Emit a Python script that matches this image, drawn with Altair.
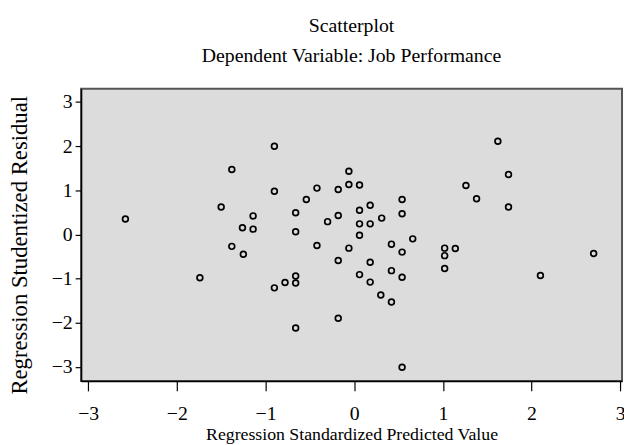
import altair as alt
import pandas as pd

predicted = [-0.90, -1.38, -0.90, -1.50, -2.58, -1.14, -1.26, -1.14, -0.06, -0.42,
             -0.18, -0.06, 0.06, -0.54, 0.54, 0.18, 0.06, -0.66, 0.54, -0.18,
             -0.30, 0.31, 0.06, 0.18, -0.66, 0.06, 0.66, 1.62, 1.74, 1.26,
             1.38, 1.74, -1.38, -1.25, -1.74, -0.90, -0.42, -0.06, 0.42, 0.54,
             1.02, 1.14, 1.02, 1.02, -0.18, 0.18, 0.42, 0.06, 0.54, 0.18,
             -0.66, -0.66, -0.78, 0.30, 0.42, -0.18, -0.66, 0.54, 2.70, 2.10]
residual = [2.00, 1.47, 0.98, 0.62, 0.35, 0.42, 0.15, 0.12, 1.43, 1.05,
            1.02, 1.13, 1.12, 0.79, 0.79, 0.66, 0.55, 0.49, 0.47, 0.43,
            0.29, 0.37, 0.24, 0.24, 0.06, -0.02, -0.10, 2.11, 1.36, 1.11,
            0.81, 0.62, -0.27, -0.45, -0.98, -1.21, -0.25, -0.31, -0.22, -0.40,
            -0.31, -0.32, -0.48, -0.77, -0.59, -0.63, -0.82, -0.91, -0.97, -1.08,
            -0.94, -1.10, -1.09, -1.37, -1.53, -1.90, -2.12, -3.01, -0.43, -0.93]

x_ticks = [-3, -2, -1, 0, 1, 2, 3]
y_ticks = [-3, -2, -1, 0, 1, 2, 3]

df = pd.DataFrame({"pred": predicted, "resid": residual})

FONT = "Liberation Serif"

chart = alt.Chart(df).mark_point(
    shape="circle", filled=False, color="black", size=34, strokeWidth=1.7, opacity=1
).encode(
    x=alt.X("pred:Q",
            scale=alt.Scale(domain=[-3.08, 3.02], nice=False, zero=False),
            axis=alt.Axis(title="Regression Standardized Predicted Value",
                          values=x_ticks, format="d", tickSize=10, labelPadding=13,
                          labelFontSize=20, titleFontSize=18,
                          titlePadding=2, grid=False)),
    y=alt.Y("resid:Q",
            scale=alt.Scale(domain=[-3.32, 3.30], nice=False, zero=False),
            axis=alt.Axis(title="Regression Studentized Residual",
                          values=y_ticks, format="d", tickSize=6, labelPadding=3,
                          labelFontSize=20, titleFontSize=23, titleY=158,
                          titlePadding=20, grid=False)),
).properties(
    width=548, height=296,
    autosize=alt.AutoSizeParams(type="none"),
    padding={"left": 74, "top": 79, "right": 2, "bottom": 62},
    title=alt.TitleParams(text=["Scatterplot", "Dependent Variable: Job Performance"],
                          font=FONT, fontSize=20, fontWeight="normal", color="black",
                          lineHeight=31, anchor="middle", offset=23),
).configure_view(
    fill="#dcdcdc", stroke="#555555", strokeWidth=2
).configure_axis(
    labelFont=FONT, titleFont=FONT,
    labelColor="black", titleColor="black", titleFontWeight="normal",
    domainColor="black", domainWidth=1.5, tickColor="black", tickWidth=1.2
)

chart.save("out.html", embed_options={"renderer": "svg", "actions": False})
